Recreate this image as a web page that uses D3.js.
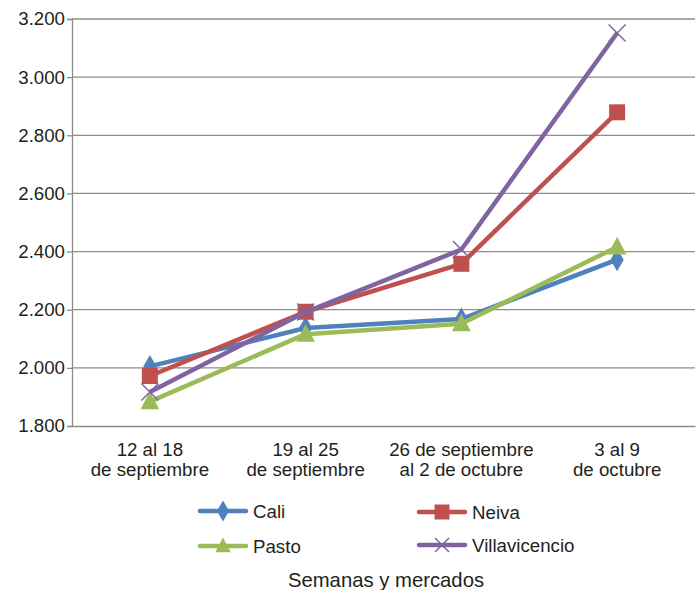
<!DOCTYPE html>
<html><head><meta charset="utf-8">
<script src="https://cdn.jsdelivr.net/npm/d3@7"></script>
<style>body{margin:0;background:#fff}svg{display:block;font-family:"Liberation Sans",Arial,sans-serif}</style>
</head><body><svg id="c" width="699" height="590"></svg>
<script>
const categories = [["12 al 18","de septiembre"],["19 al 25","de septiembre"],["26 de septiembre","al 2 de octubre"],["3 al 9","de octubre"]];
const seriesNames = ["Cali","Neiva","Pasto","Villavicencio"];
const cali = [2005, 2137, 2168, 2372];
const neiva = [1972, 2193, 2358, 2879];
const pasto = [1884, 2116, 2152, 2416];
const villavicencio = [1917, 2192, 2407, 3152];
const yTicks = [1800,2000,2200,2400,2600,2800,3000,3200];
const colors = ["#4f81bd","#c0504d","#9bbb59","#8064a2"];
const markers = ["diamond","square","triangle","x"];
const values = [cali, neiva, pasto, villavicencio];

const FS = 18.7;
const svg = d3.select("#c");
const x = d3.scaleBand().domain(d3.range(categories.length)).range([72,695]);
const y = d3.scaleLinear().domain([1800,3200]).range([426,19]);
const fmt = v => d3.format(",.3f")(v/1000);

svg.append("g").selectAll("line").data(yTicks.slice(1)).join("line")
  .attr("x1",72).attr("x2",695).attr("y1",d=>y(d)).attr("y2",d=>y(d))
  .attr("stroke","#8c8c8c").attr("stroke-width",1.3);

const yAxis = svg.append("g").attr("transform","translate(72,0)")
  .call(d3.axisLeft(y).tickValues(yTicks).tickSize(5).tickPadding(3).tickFormat(fmt));
yAxis.select(".domain").attr("stroke","#8c8c8c").attr("stroke-width",1.3);
yAxis.selectAll(".tick line").attr("stroke","#8c8c8c").attr("stroke-width",1.3);
yAxis.selectAll("text").attr("font-size",FS).attr("fill","#231f20").attr("font-family","Liberation Sans, Arial, sans-serif").attr("x",-7);

const xAxis = svg.append("g").attr("transform","translate(0,426)")
  .call(d3.axisBottom(x).tickSize(0).tickFormat(""));
xAxis.select(".domain").attr("stroke","#8c8c8c").attr("stroke-width",1.3);
xAxis.selectAll(".tick").each(function(d){
  const t = d3.select(this).append("text").attr("fill","#231f20").attr("font-size",FS).attr("text-anchor","middle");
  categories[d].forEach((l,i)=>t.append("tspan").attr("x",0).attr("y",30+i*19.5).text(l));
});

function marker(g, type, color, size){
  if(type==="diamond") g.append("path").attr("d",d3.symbol(d3.symbolDiamond, size*size*0.9)()).attr("fill",color);
  else if(type==="square") g.append("rect").attr("x",-size/2).attr("y",-size/2).attr("width",size).attr("height",size).attr("fill",color);
  else if(type==="triangle") g.append("path").attr("d",`M0,${-size*0.6}L${size*0.55},${size*0.45}L${-size*0.55},${size*0.45}Z`).attr("fill",color);
  else { const s=size/2; g.append("path").attr("d",`M${-s},${-s}L${s},${s}M${-s},${s}L${s},${-s}`).attr("stroke",color).attr("stroke-width",1.5).attr("fill","none"); }
}
const sizes = [13,16,17,17];
const line = d3.line().x((d,i)=>x(i)+x.bandwidth()/2).y(d=>y(d));
values.forEach((vals,k)=>{
  const g = svg.append("g");
  g.append("path").attr("d",line(vals)).attr("fill","none").attr("stroke",colors[k]).attr("stroke-width",4.5).attr("stroke-linejoin","round");
  vals.forEach((v,i)=>{
    const mg = g.append("g").attr("transform",`translate(${x(i)+x.bandwidth()/2},${y(v)})`);
    marker(mg, markers[k], colors[k], sizes[k]);
  });
});

const legPos = [[200,511],[419,512],[200,546],[419,545]];
seriesNames.forEach((n,k)=>{
  const [lx,ly]=legPos[k];
  const g = svg.append("g").attr("transform",`translate(${lx},${ly})`);
  g.append("line").attr("x1",0).attr("x2",46).attr("stroke",colors[k]).attr("stroke-width",4.5).attr("stroke-linecap","round");
  const mg = g.append("g").attr("transform","translate(23,0)");
  marker(mg, markers[k], colors[k], k===0?12:k===1?15:14);
  g.append("text").attr("x",53).attr("y",6.5).attr("font-size",FS).attr("fill","#231f20").text(n);
});
svg.append("text").attr("x",386).attr("y",587).attr("text-anchor","middle").attr("font-size",20.3).attr("fill","#231f20").text("Semanas y mercados");
</script></body></html>
